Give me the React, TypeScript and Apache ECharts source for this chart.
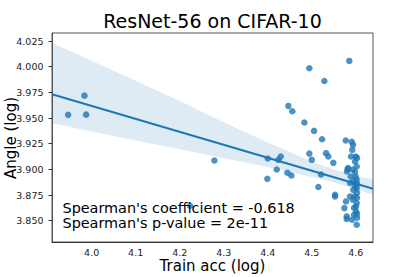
import React, { useEffect, useRef } from "react";
import * as echarts from "echarts";

const trainAcc: number[] = [
  3.9467, 3.9837, 3.9875, 4.2788, 4.2236, 4.4, 4.3991, 4.4204, 4.4241, 4.4295,
  4.4468, 4.4558, 4.4445, 4.4536, 4.4831, 4.4944, 4.4944, 4.5051, 4.4999, 4.5233,
  4.5285, 4.521, 4.5149, 4.5324, 4.5376, 4.5489, 4.5528, 4.5528, 4.5852, 4.5771,
  4.5907, 4.592, 4.5891, 4.5998, 4.5982, 4.602, 4.5816, 4.593, 4.5884, 4.5998,
  4.5943, 4.5982, 4.602, 4.5966, 4.593, 4.602, 4.6005, 4.6005, 4.5959, 4.5777,
  4.5739, 4.5793, 4.5793, 4.602, 4.5936, 4.5823, 4.58, 4.602, 4.5868, 4.6027,
  4.5943, 4.6027, 4.5868, 4.6027, 4.5959, 4.6027, 4.6027, 4.5914, 4.5982, 4.6027,
];
const angle: number[] = [
  3.9531, 3.9718, 3.9533, 3.9086, 3.8646, 3.9106, 3.8908, 3.8999, 3.9093, 3.9125,
  3.9618, 3.9566, 3.8967, 3.894, 3.9456, 3.9985, 3.9154, 3.9375, 3.9093, 3.9294,
  3.9861, 3.895, 3.8828, 3.9158, 3.9125, 3.9064, 3.8753, 3.8736, 4.0056, 3.9281,
  3.9268, 3.919, 3.9125, 3.9125, 3.9077, 3.9028, 3.9003, 3.8996, 3.8931, 3.8931,
  3.8882, 3.8833, 3.8818, 3.8736, 3.8704, 3.8672, 3.8639, 3.859, 3.8558, 3.8688,
  3.8623, 3.8542, 3.8517, 3.8461, 3.9239, 3.9012, 3.8979, 3.8899, 3.8867, 3.886,
  3.8801, 3.8772, 3.8736, 3.8724, 3.8626, 3.8568, 3.8529, 3.851, 3.8976, 3.9112,
];

const fitX: number[] = [3.91, 4.639];
const fitY: number[] = [3.9732, 3.8812];

const bandX: number[] = [3.91, 4.0, 4.1, 4.2, 4.3, 4.4, 4.5, 4.55, 4.6, 4.639];
const bandUpper: number[] = [4.0232, 4.0058, 3.9862, 3.9666, 3.9459, 3.9263, 3.9077, 3.8999, 3.8941, 3.8902];
const bandLower: number[] = [3.9452, 3.9368, 3.9282, 3.9196, 3.9109, 3.9023, 3.8927, 3.8874, 3.8806, 3.8752];

const xTicks: number[] = [4.0, 4.1, 4.2, 4.3, 4.4, 4.5, 4.6];
const yTicks: number[] = [3.85, 3.875, 3.9, 3.925, 3.95, 3.975, 4.0, 4.025];

const titleText = "ResNet-56 on CIFAR-10";
const xName = "Train acc (log)";
const yName = "Angle (log)";
const statLines: string[] = ["Spearman's coefficient = -0.618", "Spearman's p-value = 2e-11"];

const FONT = "DejaVu Sans";
const BLUE = "#1f77b4";

export default function App() {
  const ref = useRef<HTMLDivElement>(null);
  useEffect(() => {
    if (!ref.current) return;
    const chart = echarts.init(ref.current, undefined, { renderer: "svg" });
    const points = trainAcc.map((x, i) => [x, angle[i]]);
    chart.setOption({
      animation: false,
      backgroundColor: "#ffffff",
      textStyle: { fontFamily: FONT },
      grid: {
        left: 52,
        right: 42,
        top: 33,
        bottom: 35,
        containLabel: false,
        outerBoundsMode: "none",
        show: true,
        borderColor: "#555",
        borderWidth: 1,
      },
      xAxis: {
        type: "value",
        min: 3.91,
        max: 4.639,
        axisLine: { show: true, lineStyle: { color: "#333", width: 1 } },
        axisTick: { show: false },
        splitLine: { show: false },
        axisLabel: {
          customValues: xTicks,
          formatter: (v: number) => v.toFixed(1),
          fontFamily: FONT,
          fontSize: 9.5,
          color: "#222",
          margin: 5,
        },
      },
      yAxis: {
        type: "value",
        min: 3.8293,
        max: 4.0328,
        axisLine: { show: true, lineStyle: { color: "#555", width: 1 } },
        axisTick: { show: true, length: 3.5, customValues: yTicks, lineStyle: { color: "#333" } },
        splitLine: { show: false },
        axisLabel: {
          customValues: yTicks,
          formatter: (v: number) => v.toFixed(3),
          fontFamily: FONT,
          fontSize: 9.5,
          color: "#222",
          margin: 8.5,
        },
      },
      series: [
        {
          type: "scatter",
          data: points,
          symbolSize: 6.5,
          itemStyle: { color: BLUE, opacity: 0.8 },
          z: 2,
        },
        {
          type: "custom",
          z: 3,
          clip: true,
          data: [[bandX[0], bandUpper[0]]],
          renderItem: (_params: any, api: any) => {
            const pts: number[][] = [];
            for (let i = 0; i < bandX.length; i++) pts.push(api.coord([bandX[i], bandUpper[i]]));
            for (let i = bandX.length - 1; i >= 0; i--) pts.push(api.coord([bandX[i], bandLower[i]]));
            return {
              type: "polygon",
              shape: { points: pts },
              style: { fill: BLUE, opacity: 0.15, stroke: "none" },
            };
          },
        },
        {
          type: "line",
          data: fitX.map((x, i) => [x, fitY[i]]),
          showSymbol: false,
          lineStyle: { color: BLUE, width: 2 },
          z: 4,
        },
      ],
      graphic: [
        {
          type: "text",
          x: 212.5,
          y: 21,
          z: 10,
          style: {
            text: titleText,
            fontFamily: FONT,
            fontSize: 19,
            fill: "#000",
            textAlign: "center",
            textVerticalAlign: "middle",
          },
        },
        {
          type: "text",
          x: 212.5,
          y: 266,
          z: 10,
          style: {
            text: xName,
            fontFamily: FONT,
            fontSize: 15,
            fill: "#000",
            textAlign: "center",
            textVerticalAlign: "middle",
          },
        },
        {
          type: "text",
          x: 11,
          y: 138,
          rotation: Math.PI / 2,
          z: 10,
          style: {
            text: yName,
            fontFamily: FONT,
            fontSize: 15,
            fill: "#000",
            textAlign: "center",
            textVerticalAlign: "middle",
          },
        },
        ...statLines.map((t, i) => ({
          type: "text",
          x: 62.5,
          y: 207.5 + i * 15.5,
          z: 10,
          style: {
            text: t,
            fontFamily: FONT,
            fontSize: 14.4,
            fill: "#000",
            textAlign: "left",
            textVerticalAlign: "middle",
          },
        })),
      ],
    });
    return () => chart.dispose();
  }, []);
  return (
    <div
      ref={ref}
      style={{ position: "fixed", left: 0, top: 0, width: 415, height: 277 }}
    />
  );
}
